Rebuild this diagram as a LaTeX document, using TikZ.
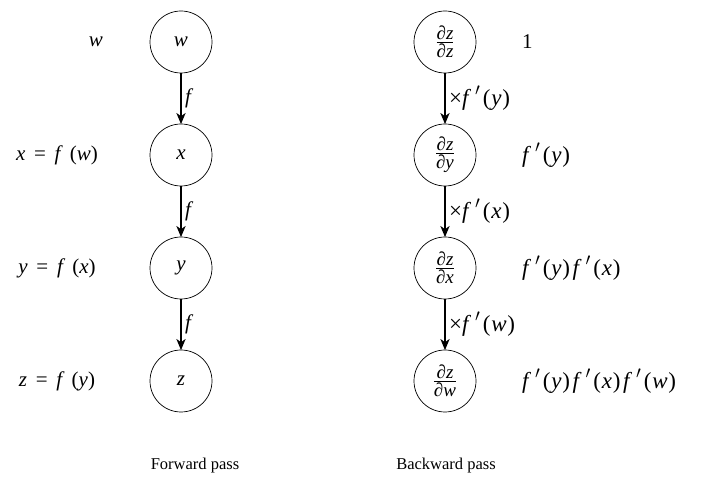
\documentclass[tikz,border=0pt]{standalone}
\usepackage{fontspec}
\setmainfont{Liberation Serif}
\usetikzlibrary{arrows.meta}
\newcommand{\mi}[1]{\textit{#1}}
\newcommand{\mth}{\fontsize{21}{23}\selectfont}
\newcommand{\mthb}{\fontsize{23}{25}\selectfont}
\newcommand{\fp}[1]{\mi{f}\kern4pt\raisebox{1pt}{$'$}\kern2.5pt(\kern0.8pt\mi{#1}\kern0.8pt)\kern2.5pt}
\newcommand{\pd}[2]{\fontsize{19}{20}\selectfont${\mbox{∂\mi{#1}}\above1pt\mbox{∂\mi{#2}}}$}
\begin{document}
\begin{tikzpicture}[x=1pt,y=-1pt,font=\fontsize{16.5}{19}\selectfont,
  nd/.style={circle,draw,line width=0.7pt,minimum size=62pt,inner sep=0pt,font=\mth},
  arr/.style={-{Stealth[length=11pt,width=9pt,inset=3pt]},line width=2.2pt,shorten >=-0.5pt},
  elab/.style={right,inner sep=3pt,font=\mth},
  blab/.style={right,inner sep=3pt,font=\mthb},
  vlab/.style={anchor=west,inner sep=0pt,font=\mthb},
  llab/.style={font=\mth}]
\useasboundingbox (0,0) rectangle (702,478);
% forward
\node[nd] (w) at (181,42) {\mi{w}};
\node[nd] (x) at (181,155) {\mi{x}};
\node[nd] (y) at (181,268) {\mi{y}};
\node[nd] (z) at (181,381) {\mi{z}};
\draw[arr] (w) -- node[elab] {\mi{f}} (x);
\draw[arr] (x) -- node[elab] {\mi{f}} (y);
\draw[arr] (y) -- node[elab] {\mi{f}} (z);
\node[llab] (lw) at (96,42) {\mi{w}};
\node[llab] (lx) at (57,155) {\mi{x} \,=\, \mi{f}\,\,(\mi{w})};
\node[llab] (ly) at (57,268) {\mi{y} \,=\, \mi{f}\,\,(\mi{x})};
\node[llab] (lz) at (57,381) {\mi{z} \,=\, \mi{f}\,\,(\mi{y})};
\node (fp) at (195,466) {Forward pass};
% backward
\node[nd] (bz) at (445,42) {\pd{z}{z}};
\node[nd] (by) at (445,155) {\pd{z}{y}};
\node[nd] (bx) at (445,268) {\pd{z}{x}};
\node[nd] (bw) at (445,381) {\pd{z}{w}};
\draw[arr] (bz) -- node[blab] {×\fp{y}} (by);
\draw[arr] (by) -- node[blab] {×\fp{x}} (bx);
\draw[arr] (bx) -- node[blab] {×\fp{w}} (bw);
\node[vlab,font=\mth] (v1) at (522,42) {1};
\node[vlab] (v2) at (522,155) {\fp{y}};
\node[vlab] (v3) at (522,268) {\fp{y}\fp{x}};
\node[vlab] (v4) at (522,381) {\fp{y}\fp{x}\fp{w}};
\node (bp) at (446,466) {Backward pass};
\end{tikzpicture}
\end{document}
